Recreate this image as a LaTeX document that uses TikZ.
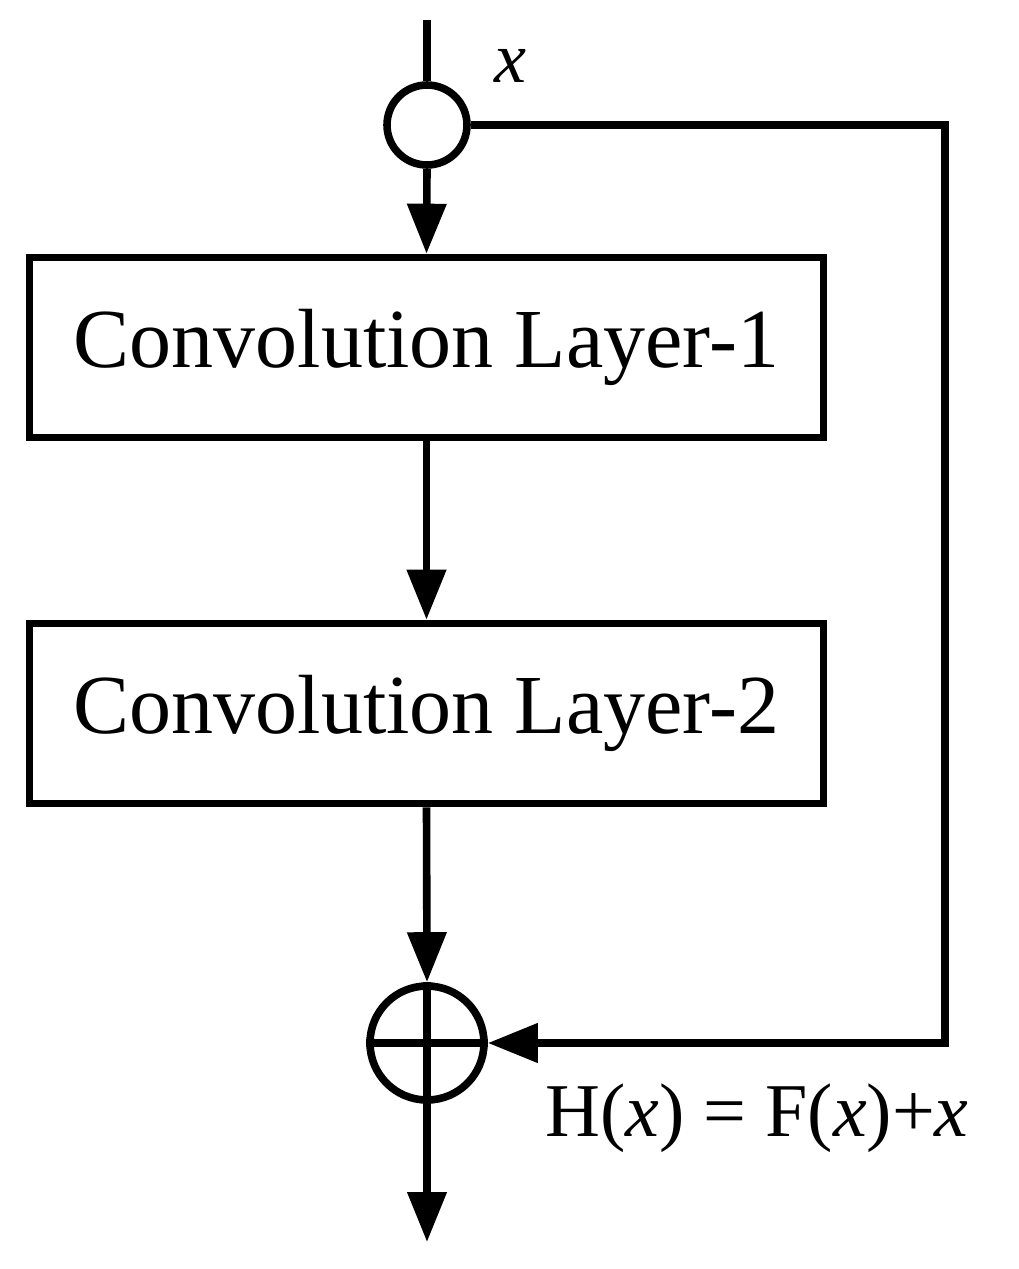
\documentclass[tikz,border=0pt]{standalone}
\usepackage{fontspec}
\setmainfont{Liberation Serif}
\usetikzlibrary{arrows.meta}
\begin{document}
\begin{tikzpicture}[x=0.5pt,y=-0.5pt,
  ln/.style={line width=3.8pt},
  arr/.style={ln,-{Triangle[length=25pt,width=19pt]}},
  box/.style={draw,line width=3.8pt,minimum width=397pt,minimum height=90pt,inner sep=0pt,font=\fontsize{42}{50}\selectfont}]
\useasboundingbox (0,0) rectangle (1018,1269);
\coordinate (top) at (427,20);
\node[circle,draw,ln,minimum size=40pt,inner sep=0pt] (c1) at (427,125) {};
\node[box] (b1) at (426.5,347.5) {Convolution Layer-1};
\node[box] (b2) at (426.5,713.5) {Convolution Layer-2};
\node[circle,draw,ln,minimum size=57pt,inner sep=0pt] (s) at (427,1043) {};
\coordinate (out) at (427,1242);
\coordinate (r1) at (945,125);
\coordinate (r2) at (945,1043);
\draw[ln] (top) -- (c1.north);
\draw[arr] (c1.south) -- (b1.north);
\draw[arr] (b1.south) -- (b2.north);
\draw[arr] (b2.south) -- (s.north);
\draw[ln] (s.north) -- (s.south) (s.west) -- (s.east);
\draw[arr] (c1.east) -- (r1) -- (r2) -- (s.east);
\draw[arr] (s.south) -- (out);
\node[font=\fontsize{36}{40}\selectfont\itshape] (lx) at (510,66) {x};
\node[font=\fontsize{38}{44}\selectfont] (lh) at (757,1118) {H(\textit{x}) = F(\textit{x})+\textit{x}};
\end{tikzpicture}
\end{document}
